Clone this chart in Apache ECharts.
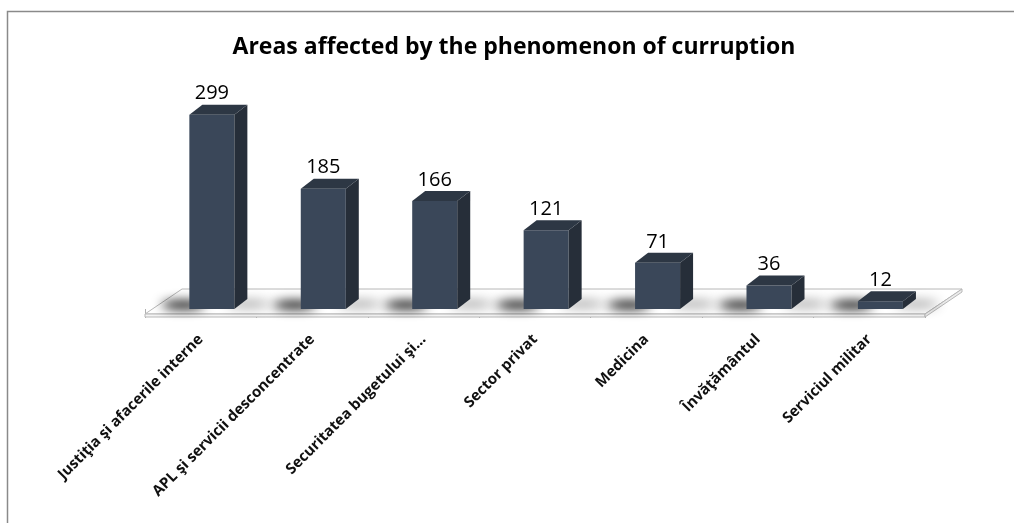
<!DOCTYPE html>
<html>
<head>
<meta charset="utf-8">
<title>Areas affected by the phenomenon of curruption</title>
<script src="https://cdn.jsdelivr.net/npm/echarts@6/dist/echarts.min.js"></script>
<style>
  html, body { margin: 0; padding: 0; background: #fff; }
  #chart { width: 1014px; height: 523px; }
</style>
</head>
<body>
<div id="chart"></div>
<script>
// Areas and number of reported cases
const categories = [
  'Justiţia şi afacerile interne',
  'APL şi servicii desconcentrate',
  'Securitatea bugetului şi...',
  'Sector privat',
  'Medicina',
  'Învăţământul',
  'Serviciul militar'
];
const values = [299, 185, 166, 121, 71, 36, 12];
const valueMax = 300;

// 3D look: oblique offsets for bars and for the floor slab
const BAR_DX = 13, BAR_DY = -10;
const FLOOR_DX = 37, FLOOR_FRONT = 5, FLOOR_BACK = -20, FLOOR_THICK = 3;
const FACE = '#3a4759', SIDE = '#262e39', TOP = '#2d3744';
const FONT = 'Open Sans';

function barGeom(api) {
  const i = api.value(0);
  const v = api.value(1);
  const base = api.coord([i, 0]);
  const top = api.coord([i, v]);
  const band = api.size([1, 0])[0];
  const w = band * 0.404;
  const cx = base[0] + band * 0.1;
  return { x0: cx - w / 2, x1: cx + w / 2, cx: cx, y0: base[1], y1: top[1] };
}

function renderFloor(params, api) {
  const cs = params.coordSys;
  const zeroY = api.coord([0, 0])[1];
  const L = cs.x, R = cs.x + cs.width;
  const yF = zeroY + FLOOR_FRONT, yB = zeroY + FLOOR_BACK;
  const line = { stroke: '#b8b8b8', lineWidth: 1 };
  return {
    type: 'group',
    children: [
      { type: 'polygon', shape: { points: [[L, yF], [R, yF], [R + FLOOR_DX, yB], [L + FLOOR_DX, yB]] },
        style: Object.assign({ fill: '#ffffff' }, line) },
      { type: 'polygon', shape: { points: [[L, yF], [R, yF], [R, yF + FLOOR_THICK], [L, yF + FLOOR_THICK]] },
        style: Object.assign({ fill: '#f4f4f4' }, line) },
      { type: 'polygon', shape: { points: [[R, yF], [R + FLOOR_DX, yB], [R + FLOOR_DX, yB + FLOOR_THICK], [R, yF + FLOOR_THICK]] },
        style: Object.assign({ fill: '#ececec' }, line) }
    ]
  };
}

// Soft shadow cast on the floor: shapes are drawn off-canvas and only their blurred shadow is shifted back in
function blurred(cx, cy, rx, ry, blur, color) {
  const far = 4000;
  return {
    type: 'ellipse',
    shape: { cx: cx - far, cy: cy, rx: rx, ry: ry },
    style: { fill: '#000', shadowBlur: blur, shadowColor: color, shadowOffsetX: far, shadowOffsetY: 0 },
    silent: true
  };
}

function renderShadow(params, api) {
  const g = barGeom(api);
  return {
    type: 'group',
    children: [
      blurred(g.x1 + 14, g.y0 - 5, 22, 3, 12, 'rgba(0,0,0,0.45)'),
      blurred(g.x0 - 6, g.y0 - 4, 22, 4, 11, 'rgba(0,0,0,1)')
    ]
  };
}

function renderBar(params, api) {
  const g = barGeom(api);
  const v = api.value(1);
  return {
    type: 'group',
    children: [
      { type: 'rect', shape: { x: g.x0, y: g.y1, width: g.x1 - g.x0, height: g.y0 - g.y1 },
        style: { fill: FACE } },
      { type: 'polygon', shape: { points: [[g.x1, g.y1], [g.x1 + BAR_DX, g.y1 + BAR_DY], [g.x1 + BAR_DX, g.y0 + BAR_DY], [g.x1, g.y0]] },
        style: { fill: SIDE } },
      { type: 'polygon', shape: { points: [[g.x0, g.y1], [g.x1, g.y1], [g.x1 + BAR_DX, g.y1 + BAR_DY], [g.x0 + BAR_DX, g.y1 + BAR_DY]] },
        style: { fill: TOP } },
      { type: 'text', x: g.cx, y: g.y1 + BAR_DY - 11,
        style: { text: String(v), fill: '#000', font: '20px "' + FONT + '"', align: 'center', verticalAlign: 'middle' } }
    ]
  };
}

const chart = echarts.init(document.getElementById('chart'), null, { renderer: 'canvas' });
const barData = values.map((v, i) => [i, v]);

chart.setOption({
  animation: false,
  backgroundColor: '#ffffff',
  title: {
    text: 'Areas affected by the phenomenon of curruption',
    left: 509,
    textAlign: 'center',
    top: 31,
    textStyle: { fontFamily: FONT, fontSize: 23, fontWeight: 'bold', color: '#000' }
  },
  graphic: [
    { type: 'rect', shape: { x: 7.5, y: 11.5, width: 1200, height: 700 },
      style: { fill: 'none', stroke: '#8a8a8a', lineWidth: 1.5 }, silent: true, z: 100 }
  ],
  grid: { left: 145, right: 89, top: 114, bottom: 214 },
  xAxis: {
    type: 'category',
    data: categories,
    offset: 8,
    axisLine: { show: false },
    axisTick: { show: true, length: 9, lineStyle: { color: '#b0b0b0' } },
    axisLabel: {
      rotate: 45, margin: 20, interval: 0,
      fontFamily: FONT, fontSize: 15, fontWeight: 'bold', color: '#111'
    },
    splitLine: { show: false }
  },
  yAxis: { type: 'value', min: 0, max: valueMax, show: false, splitLine: { show: false } },
  series: [
    { type: 'custom', data: [[0, 0]], renderItem: renderFloor, silent: true, z: 1 },
    { type: 'custom', data: barData, renderItem: renderShadow, silent: true, z: 2 },
    { type: 'custom', data: barData, renderItem: renderBar, z: 3 }
  ]
});
</script>
</body>
</html>
